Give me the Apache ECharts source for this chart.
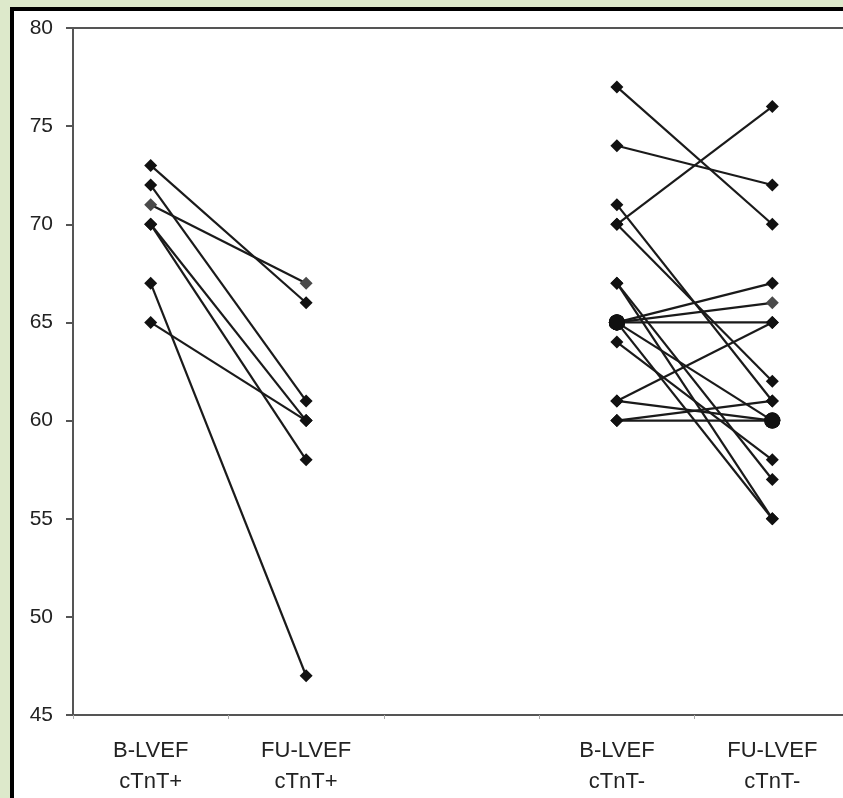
<!DOCTYPE html>
<html>
<head>
<meta charset="utf-8">
<script src="https://cdn.jsdelivr.net/npm/echarts@6/dist/echarts.min.js"></script>
<style>
  html, body { margin: 0; padding: 0; width: 843px; height: 798px; overflow: hidden; background: #dde9cb; }
  #frame { position: absolute; left: 10px; top: 7px; width: 850px; height: 800px; background: #fff;
           border-left: 4px solid #000; border-top: 4px solid #000; }
  #chart { position: absolute; left: 0; top: 0; width: 851px; height: 798px; }
</style>
</head>
<body>
<div id="frame"></div>
<div id="chart"></div>
<script>
// categories on the x axis (third one is an empty gap)
const categories = ['B-LVEF\ncTnT+', 'FU-LVEF\ncTnT+', '', 'B-LVEF\ncTnT-', 'FU-LVEF\ncTnT-'];

// cTnT+ patients: baseline -> follow-up
const posBaseline = [73, 72, 71, 70, 70, 67, 65];
const posFollowup = [66, 61, 67, 60, 58, 47, 60];

// cTnT- patients: baseline -> follow-up
const negBaseline = [77, 74, 70, 71, 70, 65, 65, 65, 65, 61, 61, 60, 60, 67, 67, 65, 64];
const negFollowup = [70, 72, 76, 61, 62, 67, 66, 65, 60, 65, 60, 60, 61, 55, 57, 55, 58];

// markers drawn grey / as big dots  [category index, value]
const greyMarks = [[0, 71], [1, 67], [4, 66]];
const bigMarks = [[3, 65], [4, 60]];

var chart = echarts.init(document.getElementById('chart'), null, { renderer: 'canvas' });

function point(cat, val) {
  var item = { value: [cat, val] };
  if (greyMarks.some(function (g) { return g[0] === cat && g[1] === val; })) {
    item.itemStyle = { color: '#4a4a4a' };
  }
  if (bigMarks.some(function (g) { return g[0] === cat && g[1] === val; })) {
    item.symbol = 'circle';
    item.symbolSize = 16;
  }
  return item;
}

var series = [];
function addPairs(base, fu, c0, c1) {
  for (var i = 0; i < base.length; i++) {
    series.push({
      type: 'line',
      data: [point(c0, base[i]), point(c1, fu[i])],
      symbol: 'diamond',
      symbolSize: 13,
      itemStyle: { color: '#111' },
      lineStyle: { color: '#1a1a1a', width: 2.2 },
      emphasis: { disabled: true },
      animation: false
    });
  }
}
addPairs(posBaseline, posFollowup, 0, 1);
addPairs(negBaseline, negFollowup, 3, 4);

var option = {
  backgroundColor: 'transparent',
  grid: {
    left: 73, top: 28, bottom: 83, right: 1,
    show: true, borderColor: '#555', borderWidth: 2, backgroundColor: 'transparent'
  },
  xAxis: {
    type: 'category',
    data: categories,
    boundaryGap: true,
    axisLine: { lineStyle: { color: '#555', width: 2 } },
    axisTick: { show: true, interval: 0, length: 4, lineStyle: { color: '#aaa', width: 1 } },
    axisLabel: {
      interval: 0, margin: 20, color: '#222',
      fontFamily: 'Liberation Sans, Arial, sans-serif', fontSize: 22, lineHeight: 31
    },
    splitLine: { show: false }
  },
  yAxis: {
    type: 'value',
    min: 45, max: 80, interval: 5,
    axisLine: { show: true, lineStyle: { color: '#555', width: 2 } },
    axisTick: { show: true, length: 7, lineStyle: { color: '#555', width: 2 } },
    axisLabel: {
      margin: 20, color: '#222',
      fontFamily: 'Liberation Sans, Arial, sans-serif', fontSize: 21
    },
    splitLine: { show: false }
  },
  series: series
};

chart.setOption(option);
window.addEventListener('resize', chart.resize);
</script>
</body>
</html>
